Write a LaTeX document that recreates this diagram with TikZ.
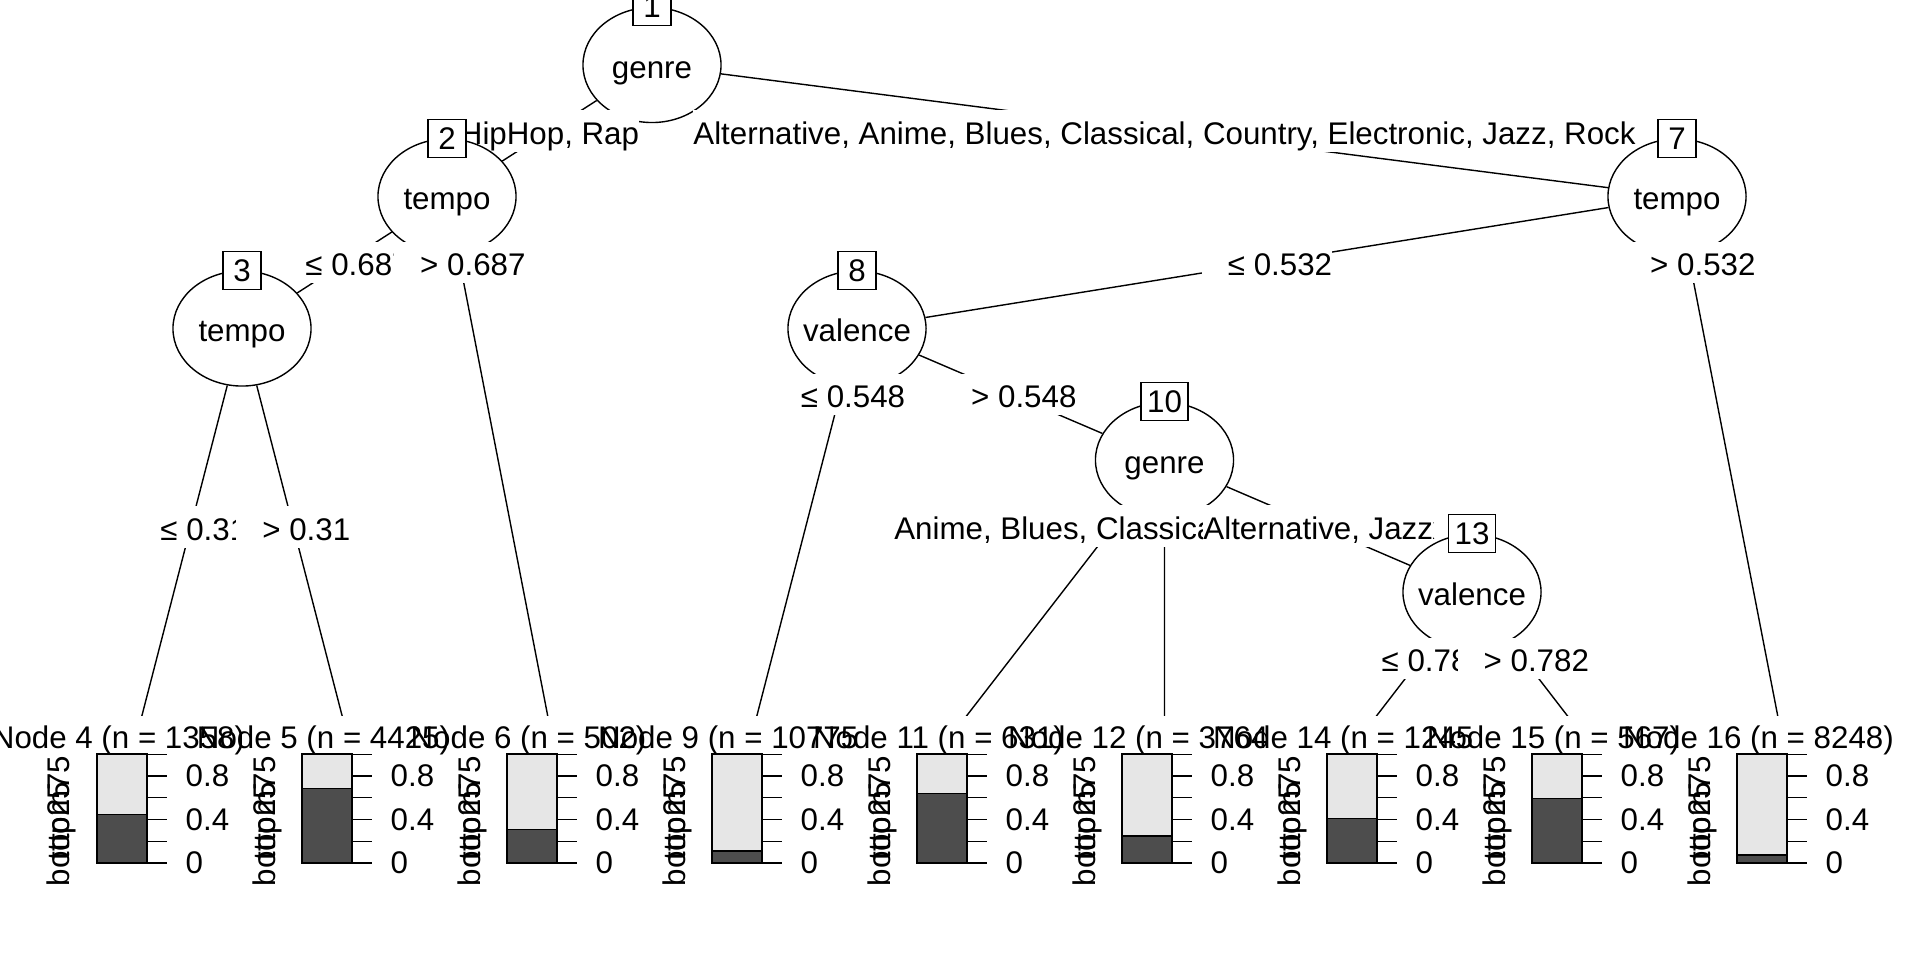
\documentclass[tikz,border=0pt]{standalone}
\usepackage{fontspec}
\setmainfont{Liberation Sans}
\usetikzlibrary{shapes.geometric,calc,backgrounds}
\definecolor{barlight}{HTML}{E6E6E6}
\definecolor{bardark}{HTML}{4D4D4D}
\begin{document}
\begin{tikzpicture}[x=0.01cm,y=-0.01cm,line width=0.4pt,font=\fontsize{8.9}{10.7}\selectfont,
  vnode/.style={ellipse,draw,fill=white,minimum width=1.38cm,minimum height=1.15cm,inner sep=0pt},
  vtext/.style={text height=0.97em,text depth=0.21em,inner sep=0pt},
  idbox/.style={draw,fill=white,minimum width=0.38cm,minimum height=0.38cm,inner sep=0.06cm},
  elabel/.style={fill=white,inner sep=0pt,text height=0.97em,text depth=0.21em,minimum height=0.37cm},
  tbox/.style={fill=white,anchor=north,minimum width=2.05cm,minimum height=1.85cm,inner sep=0pt}]
\begin{scope}[on background layer]
\fill[white] (0,0) rectangle (1920,960);
\end{scope}
\useasboundingbox (0,0) rectangle (1920,960);

\coordinate (p1) at (652,65);
\coordinate (p2) at (447,196.5);
\coordinate (p3) at (242,328.5);
\coordinate (p7) at (1677,196.5);
\coordinate (p8) at (857,328.5);
\coordinate (p10) at (1164.5,460);
\coordinate (p13) at (1472,592);

\foreach \tid/\cx/\fr/\nn in {4/139.5/0.447/1358,5/344.5/0.685/4425,6/549.5/0.309/502,
  9/754.5/0.110/10775,11/959.5/0.639/631,12/1164.5/0.248/3764,14/1369.5/0.410/1245,
  15/1574.5/0.594/567,16/1779.5/0.073/8248}{
  \node[tbox] (b\tid) at (\cx,715) {};
  \coordinate (e\tid) at (\cx,725);
  \node[anchor=base] (h\tid) at (\cx-21,748.5) {Node \tid\ (n = \nn)};
  \node[rotate=90,anchor=base] (lb\tid) at (\cx-69.5,821) {bottom75};
  \node[rotate=90,anchor=base] (lt\tid) at (\cx-69.5,821) {top25};
  \draw[fill=barlight] (\cx-42.5,754) rectangle (\cx+7.5,863);
  \draw[fill=bardark] (\cx-42.5,863) rectangle (\cx+7.5,863-108.7*\fr);
  \draw (\cx+7.5,754) -- (\cx+7.5,863);
  \foreach \tk in {0,0.2,0.4,0.6,0.8,1}
    \draw (\cx+7.5,863-108.7*\tk) -- (\cx+27.5,863-108.7*\tk);
  \foreach \tv/\tm in {0/0,0.4/4,0.8/8}
    \node[anchor=west,inner sep=0pt] (a\tid\tm) at (\cx+45.5,863-108.7*\tv) {\tv};
}

\node[vnode,label={[vtext]center:genre}] (n1) at (p1) {};
\node[idbox] (i1) at (n1.north) {1};
\node[elabel] (l2) at ($(p1)!0.5!(p2)$) {HipHop, Rap};
\node[vnode,label={[vtext]center:tempo}] (n2) at (p2) {};
\node[idbox] (i2) at (n2.north) {2};
\node[elabel] (l3) at ($(p2)!0.5!(p3)$) {\phantom{0} ≤ 0.687};
\node[vnode,label={[vtext]center:tempo}] (n3) at (p3) {};
\node[idbox] (i3) at (n3.north) {3};
\node[elabel] (l4) at ($(p3)!0.5!(e4)$) {\phantom{0} ≤ 0.31};
\node[elabel] (l5) at ($(p3)!0.5!(e5)$) {\phantom{0} > 0.31};
\node[elabel] (l6) at ($(p2)!0.1249!(e6)$) {\phantom{0} > 0.687};
\node[elabel] (l7) at ($(p1)!0.5!(p7)$) {Alternative, Anime, Blues, Classical, Country, Electronic, Jazz, Rock};
\node[vnode,label={[vtext]center:tempo}] (n7) at (p7) {};
\node[idbox] (i7) at (n7.north) {7};
\node[elabel] (l8) at ($(p7)!0.5!(p8)$) {\phantom{0} ≤ 0.532};
\node[vnode,label={[vtext]center:valence}] (n8) at (p8) {};
\node[idbox] (i8) at (n8.north) {8};
\node[elabel] (l9) at ($(p8)!0.1658!(e9)$) {\phantom{0} ≤ 0.548};
\node[elabel] (l10) at ($(p8)!0.5!(p10)$) {\phantom{0} > 0.548};
\node[vnode,label={[vtext]center:genre}] (n10) at (p10) {};
\node[idbox] (i10) at (n10.north) {10};
\node[elabel] (l12) at ($(p10)!0.249!(e12)$) {Anime, Blues, Classical, Country, Rock};
\node[elabel] (l13) at ($(p10)!0.5!(p13)$) {Alternative, Jazz};
\node[vnode,label={[vtext]center:valence}] (n13) at (p13) {};
\node[idbox] (i13) at (n13.north) {13};
\node[elabel] (l14) at ($(p13)!0.5!(e14)$) {\phantom{0} ≤ 0.782};
\node[elabel] (l15) at ($(p13)!0.5!(e15)$) {\phantom{0} > 0.782};
\node[elabel] (l16) at ($(p7)!0.1249!(e16)$) {\phantom{0} > 0.532};

\begin{scope}[on background layer]
\draw (n1) -- (n2) (n1) -- (n7) (n2) -- (n3) (n2) -- (e6) (n3) -- (e4) (n3) -- (e5)
  (n7) -- (n8) (n7) -- (e16) (n8) -- (e9) (n8) -- (n10)
  (n10) -- (e11) (n10) -- (e12) (n10) -- (n13) (n13) -- (e14) (n13) -- (e15);
\end{scope}
\end{tikzpicture}
\end{document}
